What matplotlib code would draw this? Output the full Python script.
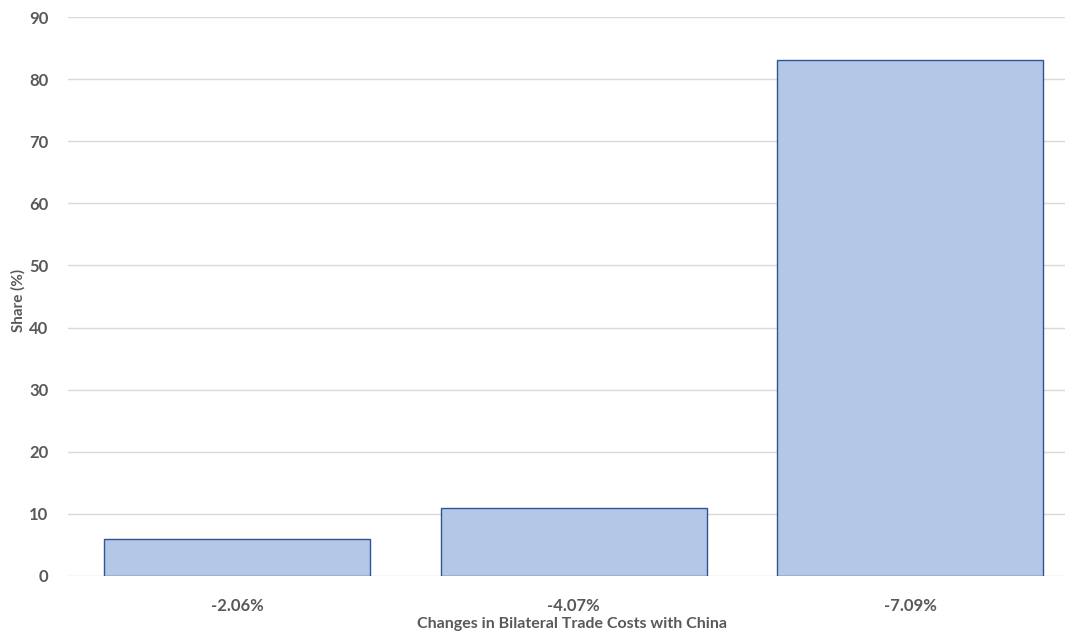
import matplotlib.pyplot as plt

categories = ["-2.06%", "-4.07%", "-7.09%"]
shares = [6, 11, 83]
yticks = [0, 10, 20, 30, 40, 50, 60, 70, 80, 90]

plt.rcParams['font.family'] = ['Lato', 'DejaVu Sans']
text_color = "#595959"

fig = plt.figure(figsize=(10.65, 6.34), dpi=100)
ax = fig.add_axes([68 / 1065, 58 / 634, 1 - 68 / 1065, 559 / 634])

x = range(len(categories))
ax.bar(x, shares, width=0.79, color="#B4C7E7", edgecolor="#2F5597", linewidth=1.0, zorder=3)

ax.set_xlim(-0.502, 2.459)
ax.set_ylim(0, 90)
ax.set_yticks(yticks)
ax.set_xticks(list(x))
ax.set_xticklabels(categories)
ax.grid(axis="y", color="#D9D9D9", linewidth=1.0, zorder=0)
ax.tick_params(length=0, labelsize=12, labelcolor=text_color)
for lbl in ax.get_xticklabels() + ax.get_yticklabels():
    lbl.set_fontweight("bold")
ax.tick_params(axis="x", pad=16)
ax.tick_params(axis="y", pad=14)
for s in ax.spines.values():
    s.set_visible(False)

fig.text(18 / 1065, 1 - 300 / 634, "Share (%)", rotation=90,
         fontsize=11, fontweight="bold", color=text_color, ha="center", va="center")
fig.text(572 / 1065, 1 - 624 / 634, "Changes in Bilateral Trade Costs with China",
         fontsize=11.5, fontweight="bold", color=text_color, ha="center", va="center")

fig.savefig("out.png", dpi=100)
